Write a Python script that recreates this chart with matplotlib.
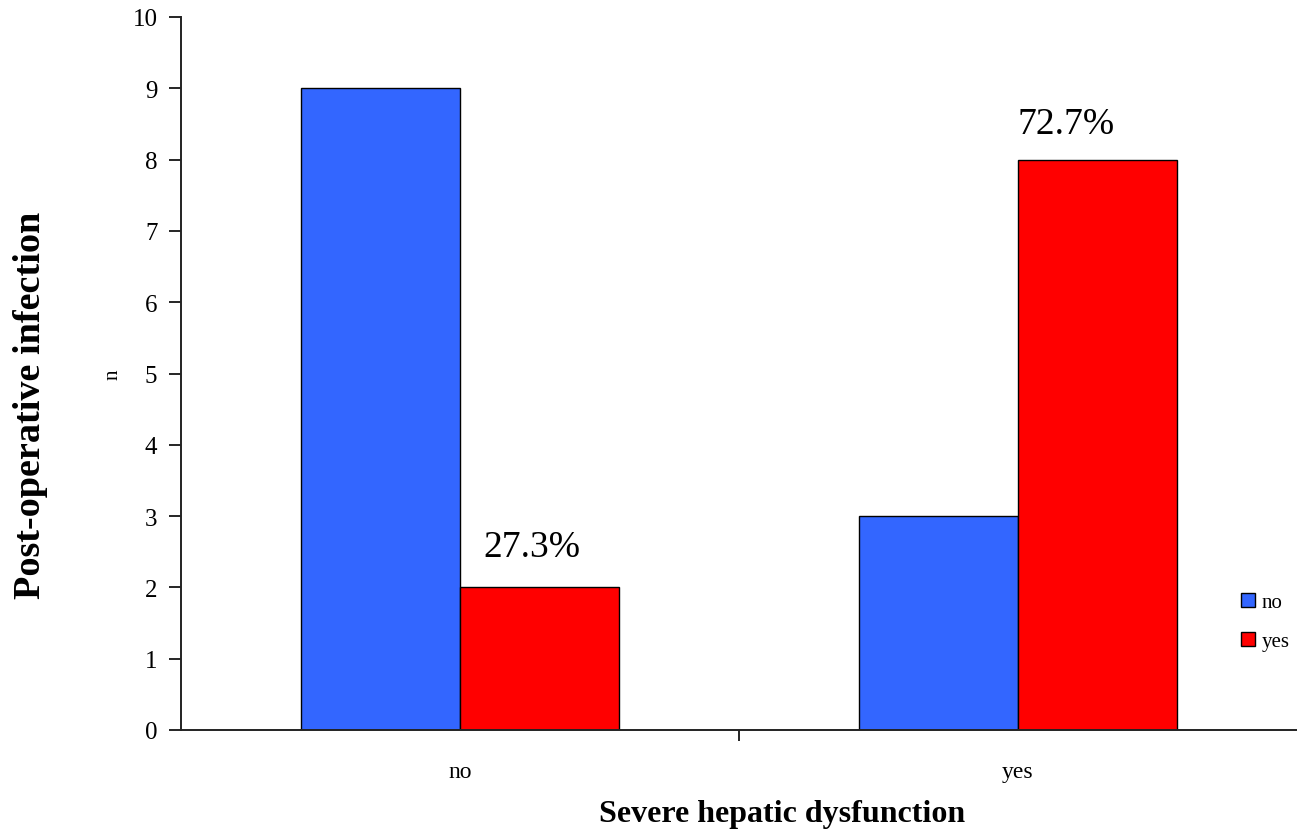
import numpy as np
import matplotlib.pyplot as plt

plt.rcParams['font.family'] = ['Liberation Serif', 'DejaVu Serif']

# Severe hepatic dysfunction (no / yes) vs post-operative infection counts
categories = ['no', 'yes']
infection_no = [9, 3]
infection_yes = [2, 8]
pct_labels = ['27.3%', '72.7%']

blue = '#3366FF'
red = '#FF0000'

fig = plt.figure(figsize=(12.97, 8.37), dpi=100)
ax = fig.add_axes([181/1297, 106/837, 1116/1297, 713/837])

x = np.arange(len(categories))
w = 0.285
b1 = ax.bar(x - w/2, infection_no, w, color=blue, edgecolor='black', linewidth=1, label='no')
b2 = ax.bar(x + w/2, infection_yes, w, color=red, edgecolor='black', linewidth=1, label='yes')

# percentage of infected patients above the red bars (hand-placed text boxes)
dx = [-0.014, -0.056]
dy = [0.57, 0.5]
for rect, txt, ox, oy in zip(b2, pct_labels, dx, dy):
    ax.text(rect.get_x() + rect.get_width()/2 + ox, rect.get_height() + oy, txt,
            ha='center', va='center', fontsize=27)

ax.set_xlim(-0.5, 1.5)
ax.set_ylim(0, 10)
ax.set_yticks(range(0, 11))
ax.set_xticks([0.5], minor=False)
ax.set_xticklabels([''])
ax.set_xticks(x, minor=True)
ax.set_xticklabels(categories, minor=True)
ax.tick_params(axis='x', which='minor', length=0, pad=22, labelsize=17)
ax.tick_params(axis='x', which='major', direction='out', length=8, width=1.2)
ax.tick_params(axis='y', direction='out', length=9, width=1.2, labelsize=18, pad=8)

for s in ['top', 'right']:
    ax.spines[s].set_visible(False)
for s in ['left', 'bottom']:
    ax.spines[s].set_linewidth(1.4)
    ax.spines[s].set_color('#222222')

fig.text(31/1297, 1 - 405/837, 'Post-operative infection', rotation=90,
         ha='center', va='center', fontsize=27.5, fontweight='bold')
fig.text(113/1297, 1 - 375/837, 'n', rotation=90, ha='center', va='center', fontsize=15)
fig.text(782/1297, 1 - 815/837, 'Severe hepatic dysfunction',
         ha='center', va='center', fontsize=23, fontweight='bold')

fig.legend(handles=[b1, b2], labels=['no', 'yes'], loc='center left',
           bbox_to_anchor=(1222/1297, 1 - 623/837), frameon=False, fontsize=15,
           handlelength=0.7, handleheight=0.7, handletextpad=0.3, labelspacing=0.95)

fig.savefig('out.png', dpi=100)
